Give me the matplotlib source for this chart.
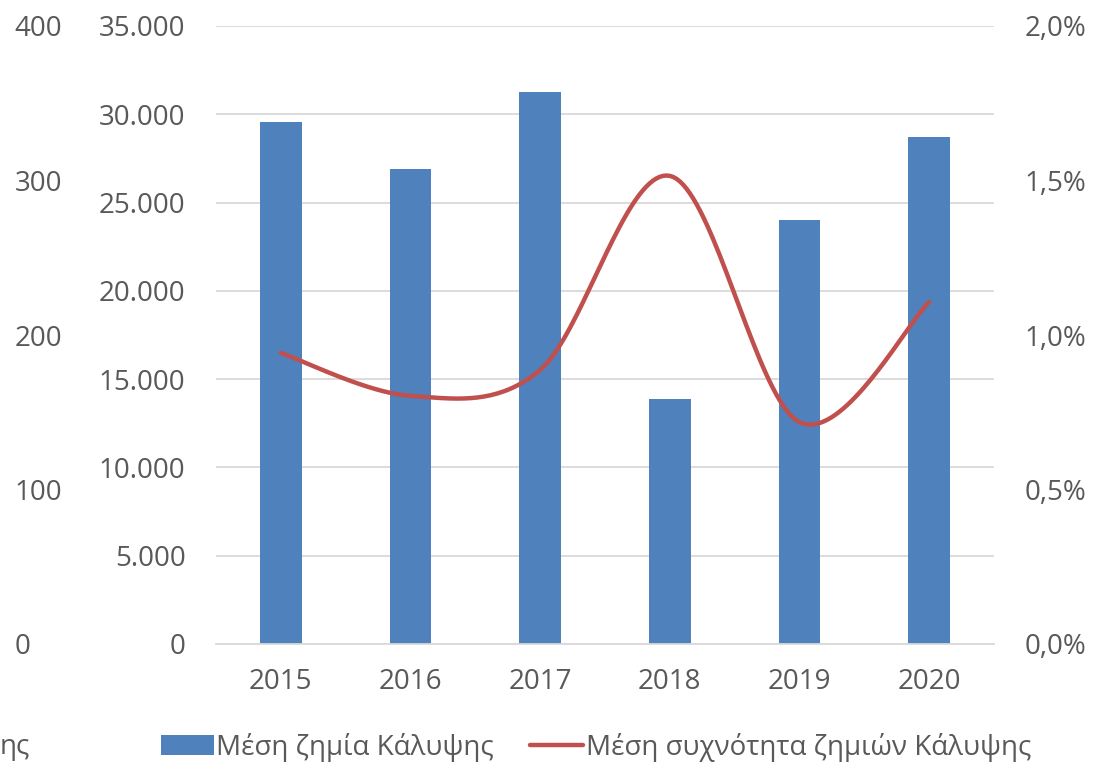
import matplotlib.pyplot as plt
from matplotlib.patches import Patch
from matplotlib.lines import Line2D
from matplotlib.ticker import FuncFormatter
import numpy as np

years = ['2015', '2016', '2017', '2018', '2019', '2020']
avg_loss = [29550, 26900, 31250, 13900, 24000, 28700]
avg_freq = [0.942, 0.803, 0.887, 1.515, 0.718, 1.107]  # percent

bar_label = 'Μέση ζημία Κάλυψης'
line_label = 'Μέση συχνότητα ζημιών Κάλυψης'

plt.rcParams['font.family'] = ['Open Sans', 'DejaVu Sans']
txt = '#595959'
fs = 20

fig = plt.figure(figsize=(10.93, 7.62), dpi=100)
ax = fig.add_axes([216 / 1093, 1 - 644 / 762, 778 / 1093, 618 / 762])

x = np.arange(len(years))
ax.bar(x, avg_loss, width=0.32, color='#4f81bd', zorder=2)
ax.set_xlim(-0.5, len(years) - 0.5)
ax.set_ylim(0, 35000)
ax.set_yticks(range(0, 35001, 5000))
ax.yaxis.set_major_formatter(FuncFormatter(lambda v, p: f'{int(v):,}'.replace(',', '.')))
ax.set_xticks(x)
ax.set_xticklabels(years)
ax.grid(axis='y', color='#d9d9d9', linewidth=1.3, zorder=0)
for s in ['top', 'right', 'left']:
    ax.spines[s].set_visible(False)
ax.spines['bottom'].set_color('#d9d9d9')
ax.spines['bottom'].set_linewidth(1.3)
ax.tick_params(axis='y', length=0, pad=22, labelsize=fs, labelcolor=txt)
ax.tick_params(axis='x', length=0, pad=17, labelsize=fs, labelcolor=txt)

# secondary axis (percent) - smoothed line like Excel
ax2 = ax.twinx()
ax2.set_ylim(0, 2.0)
ax2.set_yticks(np.arange(0, 2.01, 0.5))
ax2.yaxis.set_major_formatter(FuncFormatter(lambda v, p: f'{v:.1f}%'.replace('.', ',')))
for s in ax2.spines.values():
    s.set_visible(False)
ax2.tick_params(axis='y', length=0, pad=22, labelsize=fs, labelcolor=txt)

px = np.concatenate([[x[0]], x, [x[-1]]]).astype(float)
py = np.concatenate([[avg_freq[0]], avg_freq, [avg_freq[-1]]])
cx, cy = [], []
t = np.linspace(0, 1, 40)
for i in range(1, len(px) - 2):
    p0 = np.array([px[i], py[i]])
    p3 = np.array([px[i + 1], py[i + 1]])
    p1 = p0 + (np.array([px[i + 1], py[i + 1]]) - np.array([px[i - 1], py[i - 1]])) / 6
    p2 = p3 - (np.array([px[i + 2], py[i + 2]]) - np.array([px[i], py[i]])) / 6
    b = ((1 - t) ** 3)[:, None] * p0 + (3 * (1 - t) ** 2 * t)[:, None] * p1 \
        + (3 * (1 - t) * t ** 2)[:, None] * p2 + (t ** 3)[:, None] * p3
    cx.extend(b[:, 0])
    cy.extend(b[:, 1])
ax2.plot(cx, cy, color='#c0504d', linewidth=3.2, solid_capstyle='round', zorder=3)

# third axis far left (0-400), no visible series, labels left-aligned
ax3 = ax.twinx()
ax3.yaxis.set_ticks_position('left')
ax3.set_ylim(0, 400)
ax3.set_yticks(range(0, 401, 100))
for s in ax3.spines.values():
    s.set_visible(False)
ax3.tick_params(axis='y', length=0, pad=145, labelsize=fs, labelcolor=txt)
for lab in ax3.get_yticklabels():
    lab.set_horizontalalignment('left')

handles = [Patch(facecolor='#4f81bd', edgecolor='none'),
           Line2D([0], [0], color='#c0504d', linewidth=3.2, solid_capstyle='round')]
fig.legend(handles, [bar_label, line_label], loc='center', bbox_to_anchor=(596 / 1093, 1 - 747 / 762),
           ncol=2, frameon=False, fontsize=fs, labelcolor=txt, handlelength=1.9,
           handleheight=0.7, handletextpad=0.1, columnspacing=1.3)
fig.text(0, 1 - 747 / 762, 'ης', fontsize=fs, color=txt, ha='left', va='center')

fig.savefig('out.png', dpi=100)
